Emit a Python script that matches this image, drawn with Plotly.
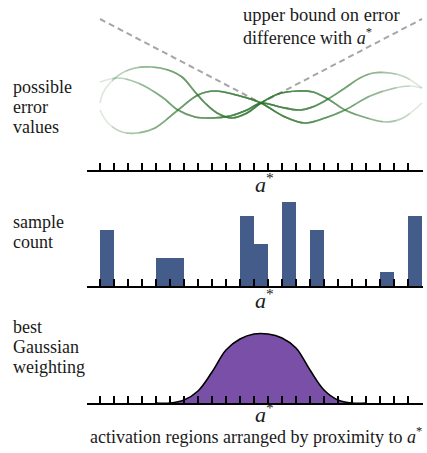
import plotly.graph_objects as go

W, H = 427, 453

# ---------------- data ----------------
tick_positions = list(range(24))          # region boundaries
a_star = 11.5                             # position of a*

# panel 1: possible error curves (x = region index, y = error value)
curve_a_x = [0, 0.21, 0.71, 1.57, 2.5, 3.71, 4.86, 5.86, 6.79, 7.5, 8.36, 9.43, 10.5, 11.5,
             12.71, 14.14, 15.21, 16.29, 17.5, 19.07, 20.5, 21.64, 23]
curve_a_y = [67, 77, 87, 97, 102, 103, 100, 93, 78, 67, 57, 52, 57, 67,
             76, 79, 78, 71, 60, 52, 48, 52, 67]
curve_b_x = [0, 1.29, 2.71, 4.43, 5.57, 6.79, 8.0, 9.29, 10.5, 11.5,
             12.86, 14.29, 15.36, 16.29, 17.5, 18.57, 19.5, 20.71, 21.79, 23]
curve_b_y = [88, 92, 87, 73, 60, 53, 52, 54, 60, 67,
             63, 60, 64, 71, 82, 92, 97, 97, 93, 82]
curve_c_x = [0, 0.57, 1.57, 2.71, 3.93, 5.57, 7.0, 8.21, 10.0, 11.5,
             13.07, 14.64, 16.07, 17.5, 19.29, 21.07, 22.14, 23]
curve_c_y = [60, 47, 38, 37, 42, 60, 75, 79, 74, 67,
             54, 47, 52, 60, 74, 82, 84, 82]
bound_x = [0, 11.5, 23]
bound_y = [151, 67, 151]

# panel 2: sample counts per region
bar_regions = [0, 4, 5, 10, 11, 13, 15, 20, 22]
bar_counts = [4, 2, 2, 5, 3, 6, 4, 1, 5]

# panel 3: gaussian weighting at region boundaries
weight_x = list(range(4, 20))
weight_y = [0, 0, 3, 12, 31, 53, 64, 69, 69, 65, 55, 33, 13, 3, 0, 0]

# ---------------- styling ----------------
FONT = "'Liberation Serif', 'DejaVu Serif', 'Times New Roman', serif"
GREEN = "46,120,46"
BAR_COLOR = "#445c8a"
PURPLE = "#7a4fa7"
TEXT = "#1a1a1a"


def fx(p):
    return p / W


def fy(p):
    return 1 - p / H


x_dom = [fx(87), fx(423)]
x_rng = [-13 / 14, 323 / 14]

fig = go.Figure()

panels = [  # (y top px, y bottom px, y range)
    (0, 170, [0, 170]),
    (188, 286, [0, 7]),
    (323, 403, [0, 80]),
]

layout = dict(
    width=W, height=H, margin=dict(l=0, r=0, t=0, b=0),
    paper_bgcolor="white", plot_bgcolor="rgba(0,0,0,0)",
    showlegend=False, font=dict(family=FONT),
)

for i, (top, bot, yr) in enumerate(panels, start=1):
    sfx = "" if i == 1 else str(i)
    layout["xaxis" + sfx] = dict(
        domain=x_dom, range=x_rng, anchor="y" + sfx,
        showline=True, linewidth=2, linecolor="black",
        ticks="inside", ticklen=7, tickwidth=2, tickcolor="black",
        tickvals=tick_positions, showticklabels=False,
        showgrid=False, zeroline=False, fixedrange=True,
    )
    layout["yaxis" + sfx] = dict(
        domain=[fy(bot), fy(top)], range=yr, anchor="x" + sfx,
        visible=False, fixedrange=True,
    )

# dashed upper bound
fig.add_trace(go.Scatter(x=bound_x, y=bound_y, mode="lines", xaxis="x", yaxis="y",
                         line=dict(color="#a6a6a6", width=2, dash="6px,4px"),
                         hoverinfo="skip"))

# layered fading curves: nested clipped subplots with the same scale
n_layers = 12
alpha = 0.17
curves = [(curve_a_x, curve_a_y), (curve_b_x, curve_b_y), (curve_c_x, curve_c_y)]
axis_id = 4
for j in range(n_layers):
    if j == 0:
        xa, ya = "x", "y"
    else:
        w = 11.6 * (1 - j / n_layers)
        sfx = str(axis_id)
        axis_id += 1
        layout["xaxis" + sfx] = dict(
            domain=[fx(261 - 14 * w), fx(261 + 14 * w)], range=[a_star - w, a_star + w],
            anchor="y" + sfx, visible=False, fixedrange=True)
        layout["yaxis" + sfx] = dict(
            domain=[fy(170), fy(0)], range=[0, 170], anchor="x" + sfx,
            visible=False, fixedrange=True)
        xa, ya = "x" + sfx, "y" + sfx
    for cx, cy in curves:
        fig.add_trace(go.Scatter(x=cx, y=cy, mode="lines", xaxis=xa, yaxis=ya,
                                 line=dict(color=f"rgba({GREEN},{alpha})", width=1.6,
                                           shape="spline", smoothing=1.0),
                                 hoverinfo="skip"))

# bars
fig.add_trace(go.Bar(x=[r + 0.5 for r in bar_regions], y=bar_counts, width=1,
                     xaxis="x2", yaxis="y2", marker=dict(color=BAR_COLOR, line=dict(width=0)),
                     hoverinfo="skip"))

# gaussian weighting
fig.add_trace(go.Scatter(x=weight_x, y=weight_y, mode="lines", xaxis="x3", yaxis="y3",
                         fill="tozeroy", fillcolor=PURPLE,
                         line=dict(color="black", width=1.6, shape="spline", smoothing=1.0),
                         hoverinfo="skip"))

fig.update_layout(**layout)

ann = []


def label(text, x, y, size=18, anchor="left"):
    ann.append(dict(text=text, x=fx(x), y=fy(y), xref="paper", yref="paper",
                    xanchor=anchor, yanchor="middle", showarrow=False,
                    font=dict(family=FONT, size=size, color=TEXT)))


for t, y in [("possible", 87), ("error", 107), ("values", 127),
             ("sample", 222), ("count", 242),
             ("best", 327), ("Gaussian", 347), ("weighting", 367)]:
    label(t, 11, y)

label("upper bound on error", 241, 15, size=18.5)
label("difference with <i>a</i><sup>*</sup>", 241, 37, size=18)
label("activation regions arranged by proximity to <i>a</i><sup>*</sup>", 256, 435, anchor="center")

for ysfx, ypx in [("", 183), ("2", 299), ("3", 413)]:
    ann.append(dict(text="<i>a</i><sup>*</sup>", x=a_star, y=fy(ypx), xref="x" + ysfx,
                    yref="paper", xanchor="center", yanchor="middle", xshift=3,
                    showarrow=False, font=dict(family=FONT, size=22, color=TEXT)))

fig.update_layout(annotations=ann)
fig.write_html("out.html", config={"displayModeBar": False},
               post_script="document.body.style.margin='0';document.body.style.overflow='hidden';")
